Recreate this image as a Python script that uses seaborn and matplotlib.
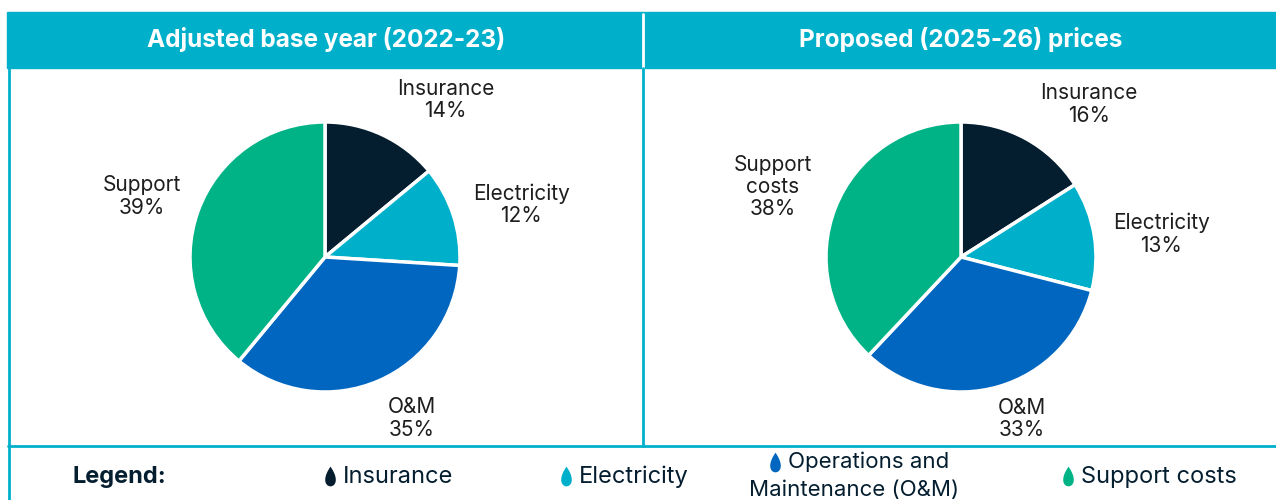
import numpy as np
import matplotlib
matplotlib.use("Agg")
import matplotlib.pyplot as plt
from matplotlib.path import Path
from matplotlib.patches import Rectangle
import seaborn as sns

# data
categories = ["Insurance", "Electricity", "O&M", "Support"]
base_year = [14, 12, 35, 39]
proposed = [16, 13, 33, 38]
base_labels = ["Insurance", "Electricity", "O&M", "Support"]
prop_labels = ["Insurance", "Electricity", "O&M", "Support\ncosts"]
titles = ["Adjusted base year (2022-23)", "Proposed (2025-26) prices"]
legend_names = ["Insurance", "Electricity", "Operations and\nMaintenance (O&M)", "Support costs"]

colors = ["#041E30", "#00B0CA", "#0066BF", "#00B386"]
cyan = "#00B0CA"
text_col = "#1E1E1E"
navy = "#041E30"

sns.set_style("white")
plt.rcParams["font.family"] = ["Inter", "DejaVu Sans"]

fig = plt.figure(figsize=(12.76, 5), dpi=100)
W, H = 1276, 500


def fx(px):
    return px / W


def fy(py):
    return 1 - py / H


# header bands and frame lines
fig.patches.append(Rectangle((fx(7), fy(68)), fx(1276 - 7), 56 / H,
                             transform=fig.transFigure, color=cyan, zorder=0))
fig.lines.append(plt.Line2D([fx(643), fx(643)], [fy(14), fy(68)], transform=fig.transFigure,
                            color="white", lw=2))
fig.lines.append(plt.Line2D([fx(8.5), fx(8.5)], [fy(68), fy(500)], transform=fig.transFigure,
                            color=cyan, lw=2))
fig.lines.append(plt.Line2D([fx(643), fx(643)], [fy(68), fy(446)], transform=fig.transFigure,
                            color=cyan, lw=2))
fig.lines.append(plt.Line2D([fx(8), fx(1276)], [fy(446), fy(446)], transform=fig.transFigure,
                            color=cyan, lw=2))

fig.text(fx(326), fy(40), titles[0], ha="center", va="center", color="white",
         fontsize=17.5, fontweight="bold")
fig.text(fx(961), fy(40), titles[1], ha="center", va="center", color="white",
         fontsize=17.5, fontweight="bold")

# pies
R = 135
half = 1.5 * R
# label nudges in pixels (right, up) to mimic the best-fit placement
nudges = [
    [(37, -20), (10, -8), (9, 18), (1, -6)],
    [(34, -19), (7, -8), (6, 26), (-6, -2)],
]
for k, (cx, vals, names) in enumerate([(325, base_year, base_labels), (961, proposed, prop_labels)]):
    ax = fig.add_axes([fx(cx - half), 1 - (257 + half) / H, 2 * half / W, 2 * half / H])
    labels = [f"{n}\n{v}%" for n, v in zip(names, vals)]
    wedges, texts = ax.pie(vals, labels=labels, colors=colors, startangle=90,
                           counterclock=False, labeldistance=1.45,
                           wedgeprops=dict(edgecolor="white", linewidth=2.5),
                           textprops=dict(fontsize=15, color=text_col, linespacing=1.15))
    for t, (dx, dy) in zip(texts, nudges[k]):
        x, y = t.get_position()
        t.set_position((x + dx / R, y + dy / R))
        t.set_ha("center")
        t.set_va("center")
        t.set_multialignment("center")
    ax.set_xlim(-1.5, 1.5)
    ax.set_ylim(-1.5, 1.5)
    ax.set_aspect("equal")
    ax.axis("off")

# legend row
t = np.linspace(0, 2 * np.pi, 80)
drop = Path(np.column_stack([0.7 * np.sin(t) * np.sin(t / 2), np.cos(t)]))

fig.text(fx(73), fy(477), "Legend:", ha="left", va="center", color=navy,
         fontsize=17, fontweight="bold")
lax = fig.add_axes([0, 0, 1, 1], facecolor="none")
lax.set_xlim(0, W)
lax.set_ylim(H, 0)
lax.axis("off")
leg_x = [330, 566, 775, 1068]
leg_y = [476, 476, 462, 476]
for i, name in enumerate(legend_names):
    lax.scatter([leg_x[i]], [leg_y[i]], marker=drop, s=200, color=colors[i], lw=0)
    if "\n" in name:
        first, second = name.split("\n")
        lax.text(leg_x[i] + 13, 462, first, ha="left", va="center", fontsize=16, color=navy)
        lax.text(854, 490, second, ha="center", va="center", fontsize=16, color=navy)
    else:
        lax.text(leg_x[i] + 13, 477, name, ha="left", va="center", fontsize=17, color=navy)

fig.savefig("out.png", dpi=100, facecolor="white")
